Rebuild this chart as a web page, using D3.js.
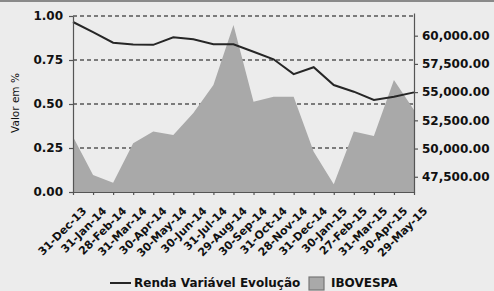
<!DOCTYPE html>
<html>
<head>
<meta charset="utf-8">
<script src="https://cdn.jsdelivr.net/npm/d3@7/dist/d3.min.js"></script>
<style>
  body { margin: 0; background: #ececec; }
  svg { display: block; }
  text { font-family: "DejaVu Sans", sans-serif; fill: #111; }
</style>
</head>
<body>
<svg class="chart" width="494" height="291"></svg>
<script>
"use strict";

let dates = ["31-Dec-13", "31-Jan-14", "28-Feb-14", "31-Mar-14", "30-Apr-14", "30-May-14",
  "30-Jun-14", "31-Jul-14", "29-Aug-14", "30-Sep-14", "31-Oct-14", "28-Nov-14",
  "31-Dec-14", "30-Jan-15", "27-Feb-15", "31-Mar-15", "30-Apr-15", "29-May-15"];

// Renda Variável Evolução (left axis, %)
let renda = [0.966, 0.908, 0.848, 0.838, 0.836, 0.879, 0.868, 0.839, 0.839, 0.797,
  0.754, 0.670, 0.709, 0.608, 0.570, 0.523, 0.541, 0.566];

// IBOVESPA (right axis)
let ibovespa = [51050, 47660, 46980, 50470, 51500, 51200, 53150, 55640, 60950, 54150,
  54600, 54600, 49720, 46830, 51500, 51120, 56080, 53420];

let leftTicks = [0, 0.25, 0.5, 0.75, 1];
let rightTicks = [47500, 50000, 52500, 55000, 57500, 60000];

let svg = d3.select('.chart');

let x0 = 73, x1 = 414, yTop = 16, yBot = 192;

let x = d3.scalePoint().domain(dates).range([x0, x1]);
let yL = d3.scaleLinear().domain([0, 1]).range([yBot, yTop]);
let yR = d3.scaleLinear().domain([46150, 62010]).range([yBot, 13]);

// top border of the frame
svg.append('rect')
  .attr('x', 0).attr('y', 0).attr('width', 494).attr('height', 2)
  .attr('fill', '#8a8a8a');

// dashed grid from left ticks
svg.append('g')
  .selectAll('line')
  .data(leftTicks.filter(d => d > 0))
  .enter()
  .append('line')
  .attr('x1', x0).attr('x2', x1)
  .attr('y1', d => yL(d)).attr('y2', d => yL(d))
  .attr('stroke', '#555')
  .attr('stroke-width', 1.3)
  .attr('stroke-dasharray', '4,3');

// IBOVESPA area
let area = d3.area()
  .x((d, i) => x(dates[i]))
  .y0(yBot)
  .y1(d => yR(d));

svg.append('path')
  .datum(ibovespa)
  .attr('d', area)
  .attr('fill', '#a9a9a9');

// Renda line
let line = d3.line()
  .x((d, i) => x(dates[i]))
  .y(d => yL(d));

svg.append('path')
  .datum(renda)
  .attr('d', line)
  .attr('fill', 'none')
  .attr('stroke', '#262626')
  .attr('stroke-width', 2);

// axes
let styleAxis = g => {
  g.selectAll('path, line').attr('stroke', '#555').attr('stroke-width', 1.2);
  g.selectAll('text')
    .style('font-size', '12px')
    .style('font-weight', 'bold')
    .attr('fill', '#111');
};

svg.append('g')
  .attr('transform', 'translate(' + x0 + ',0)')
  .call(d3.axisLeft(yL).tickValues(leftTicks).tickFormat(d3.format('.2f'))
    .tickSize(4).tickSizeOuter(0).tickPadding(6))
  .call(styleAxis);

svg.append('g')
  .attr('transform', 'translate(' + x1 + ',0)')
  .call(d3.axisRight(yR).tickValues(rightTicks).tickFormat(d3.format(',.2f'))
    .tickSize(4).tickSizeOuter(0).tickPadding(4))
  .call(styleAxis);

let xAxis = svg.append('g')
  .attr('transform', 'translate(0,' + yBot + ')')
  .call(d3.axisBottom(x).tickSize(3).tickSizeOuter(0).tickPadding(4))
  .call(styleAxis);

xAxis.selectAll('text')
  .style('font-size', '11px')
  .attr('text-anchor', 'end')
  .attr('dy', '0.35em')
  .attr('transform', 'translate(6,12) rotate(-45)');

// y title
svg.append('text')
  .attr('transform', 'translate(19,103) rotate(-90)')
  .attr('text-anchor', 'middle')
  .attr('fill', '#000')
  .style('font-size', '10.5px')
  .text('Valor em %');

// legend
let lg = svg.append('g');
lg.append('line')
  .attr('x1', 110).attr('x2', 131).attr('y1', 283).attr('y2', 283)
  .attr('stroke', '#262626').attr('stroke-width', 2);
lg.append('text')
  .attr('x', 134).attr('y', 287)
  .style('font-size', '12px').style('font-weight', 'bold')
  .text('Renda Variável Evolução');
lg.append('rect')
  .attr('x', 309).attr('y', 277).attr('width', 15).attr('height', 13)
  .attr('fill', '#a9a9a9').attr('stroke', '#777').attr('stroke-width', 1.2);
lg.append('text')
  .attr('x', 331).attr('y', 287)
  .style('font-size', '12px').style('font-weight', 'bold')
  .text('IBOVESPA');
</script>
</body>
</html>
